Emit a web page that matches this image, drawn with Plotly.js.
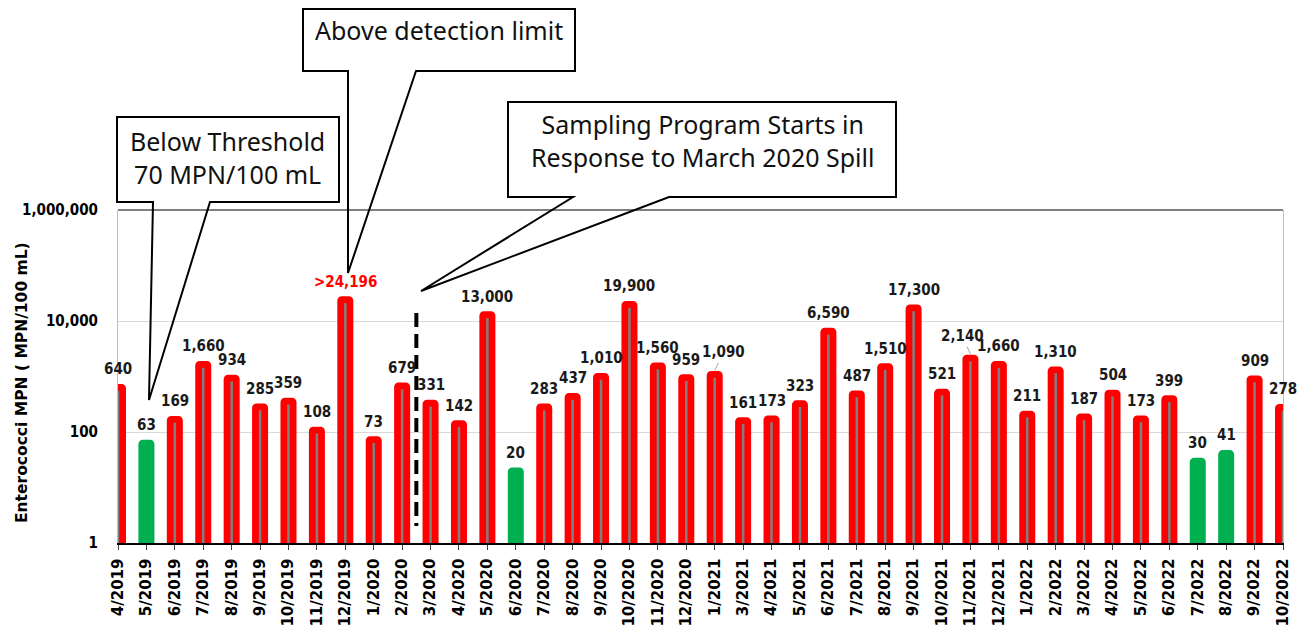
<!DOCTYPE html>
<html>
<head>
<meta charset="utf-8">
<script src="https://cdn.plot.ly/plotly-3.0.1.min.js"></script>
<style>html,body{margin:0;padding:0;background:#fff;}#chart{width:1306px;height:632px;}</style>
</head>
<body>
<div id="chart"></div>
<script>
const months = ['4/2019','5/2019','6/2019','7/2019','8/2019','9/2019','10/2019','11/2019','12/2019','1/2020','2/2020',
  '3/2020','4/2020','5/2020','6/2020','7/2020','8/2020','9/2020','10/2020','11/2020','12/2020',
  '1/2021','3/2021','4/2021','5/2021','6/2021','7/2021','8/2021','9/2021','10/2021','11/2021','12/2021',
  '1/2022','2/2022','3/2022','4/2022','5/2022','6/2022','7/2022','8/2022','9/2022','10/2022'];
const values = [640,63,169,1660,934,285,359,108,24196,73,679,
  331,142,13000,20,283,437,1010,19900,1560,959,
  1090,161,173,323,6590,487,1510,17300,521,2140,1660,
  211,1310,187,504,173,399,30,41,909,278];
const aboveDetectionLimit = ['12/2019'];
const threshold = 70;
const programStartBetween = ['2/2020','3/2020'];
const yTickVals = [1, 100, 10000, 1000000];
const yTickText = ['1', '100', '10,000', '1,000,000'];
// labels moved aside with a leader line: month -> [dx, dy] in pixels
const leaderLabels = { '1/2021': [9, -18], '11/2021': [-8, -18] };

const RED = '#ff0000', GREEN = '#00b050', GRAY = '#7f7f7f';
const below = values.map(v => v < threshold);
const labels = values.map((v, i) => (aboveDetectionLimit.includes(months[i]) ? '>' : '') + v.toLocaleString('en-US'));

// pixel -> paper helpers (plot area: x 118..1283, y 210..543)
const L = 118, R = 1283, T = 210, B = 543;
const px = x => ((x - L) / (R - L)).toFixed(5);
const py = y => ((B - y) / (B - T)).toFixed(5);
function calloutPath(pts) {
  return 'M' + pts.map(p => px(p[0]) + ',' + py(p[1])).join(' L') + ' Z';
}

const trace = {
  type: 'bar',
  x: months,
  y: values,
  width: 0.326,
  marker: {
    color: below.map(b => b ? GREEN : GRAY),
    line: { color: below.map(b => b ? GREEN : RED), width: 6.75 },
    cornerradius: 1
  },
  hoverinfo: 'x+y'
};

const labelFontFamily = '"DejaVu Sans Condensed", "Liberation Sans Narrow", "Arial Narrow", sans-serif';
const labelAnnotations = values.map((v, i) => {
  const font = { family: labelFontFamily, size: 15,
    color: aboveDetectionLimit.includes(months[i]) ? RED : '#1a1a1a', weight: 'bold' };
  const lead = leaderLabels[months[i]];
  if (lead) {
    return { x: months[i], y: Math.log10(v), xref: 'x', yref: 'y', text: labels[i],
      showarrow: true, arrowhead: 0, arrowwidth: 1, arrowcolor: '#a6a6a6', standoff: 0,
      ax: lead[0], ay: lead[1], xanchor: 'center', yanchor: 'middle', yshift: 4, font: font };
  }
  return { x: months[i], y: Math.log10(v), xref: 'x', yref: 'y',
    text: labels[i], showarrow: false, yanchor: 'bottom', yshift: 7, font: font };
});

const calloutFont = { family: '"Noto Sans", "Open Sans", sans-serif', size: 25, color: '#111' };

const annotations = labelAnnotations.concat([
  { xref: 'paper', yref: 'paper', x: px(22), y: py(383), text: '<b>Enterococci MPN ( MPN/100 mL)</b>',
    textangle: -90, showarrow: false, xanchor: 'center', yanchor: 'middle',
    font: { family: '"DejaVu Sans", Verdana, sans-serif', size: 15.5, color: '#000' } },
  { xref: 'paper', yref: 'paper', x: px(228), y: py(158), text: 'Below Threshold<br>70 MPN/100 mL',
    showarrow: false, xanchor: 'center', yanchor: 'middle', font: calloutFont },
  { xref: 'paper', yref: 'paper', x: px(439), y: py(30), text: 'Above detection limit',
    showarrow: false, xanchor: 'center', yanchor: 'middle', font: calloutFont },
  { xref: 'paper', yref: 'paper', x: px(702), y: py(141), text: 'Sampling Program Starts in<br>Response to March 2020 Spill',
    showarrow: false, xanchor: 'center', yanchor: 'middle', font: calloutFont }
]);

const startIdx = (months.indexOf(programStartBetween[0]) + months.indexOf(programStartBetween[1])) / 2;

const shapes = [
  // top frame line
  { type: 'line', xref: 'paper', yref: 'paper', x0: 0, x1: 1, y0: 1, y1: 1, line: { color: '#000', width: 1.2 } },
  // program start dashed line
  { type: 'line', xref: 'x', yref: 'paper', x0: startIdx, x1: startIdx, y0: py(313), y1: py(526),
    line: { color: '#000', width: 4, dash: '14px,7px' } },
  // callouts
  { type: 'path', xref: 'paper', yref: 'paper', line: { color: '#000', width: 2 }, fillcolor: 'rgba(0,0,0,0)',
    path: calloutPath([[117,117],[339,117],[339,202],[210,202],[149,400],[153,202],[117,202]]) },
  { type: 'path', xref: 'paper', yref: 'paper', line: { color: '#000', width: 2 }, fillcolor: 'rgba(0,0,0,0)',
    path: calloutPath([[303,9],[575,9],[575,71],[416,71],[348,273],[348,71],[303,71]]) },
  { type: 'path', xref: 'paper', yref: 'paper', line: { color: '#000', width: 2 }, fillcolor: 'rgba(0,0,0,0)',
    path: calloutPath([[508,102],[896,102],[896,197],[669,197],[421,291],[573,197],[508,197]]) }
];

const layout = {
  width: 1306, height: 632,
  margin: { l: L, r: 1306 - R, t: T, b: 632 - B, pad: 0 },
  paper_bgcolor: '#fff', plot_bgcolor: '#fff',
  showlegend: false,
  xaxis: {
    type: 'category', range: [0, months.length - 1], tickangle: -90,
    ticks: 'outside', ticklen: 5, tickcolor: '#404040', tickwidth: 1, ticklabelstandoff: 3,
    showline: true, linecolor: '#000', linewidth: 1.5, showgrid: false, zeroline: false,
    tickfont: { family: '"DejaVu Sans", Verdana, sans-serif', size: 15, color: '#000', weight: 'bold' },
    automargin: false, fixedrange: true
  },
  yaxis: {
    type: 'log', range: [0, 6], tickmode: 'array', tickvals: yTickVals, ticktext: yTickText,
    showgrid: true, gridcolor: '#d9d9d9', gridwidth: 1,
    showline: true, linecolor: '#bfbfbf', linewidth: 1, mirror: true,
    ticks: '', ticklabelstandoff: 16, zeroline: false,
    tickfont: { family: '"DejaVu Sans Condensed", "DejaVu Sans", sans-serif', size: 15, color: '#000', weight: 'bold' },
    automargin: false, fixedrange: true
  },
  bargap: 0.4,
  annotations: annotations,
  shapes: shapes
};

Plotly.newPlot('chart', [trace], layout, { displayModeBar: false, staticPlot: true });
</script>
</body>
</html>
